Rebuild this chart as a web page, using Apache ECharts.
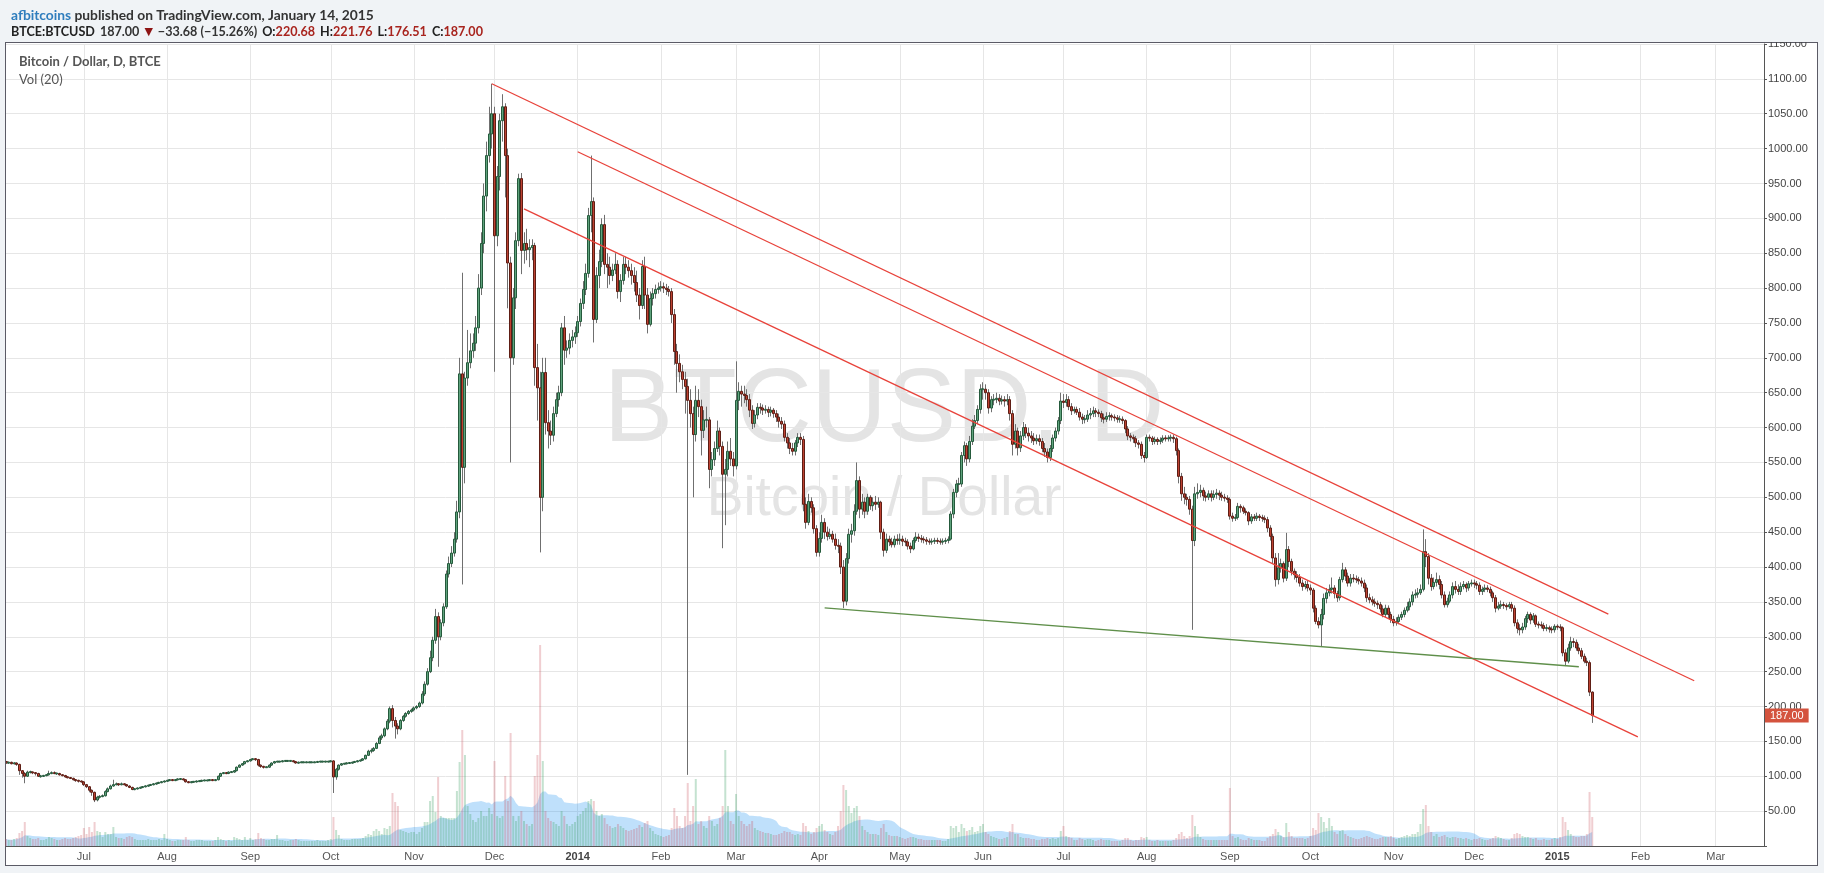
<!DOCTYPE html>
<html>
<head>
<meta charset="utf-8">
<script src="https://cdn.jsdelivr.net/npm/echarts@6/dist/echarts.min.js"></script>
<style>
html,body{margin:0;padding:0;background:#f0f3f6;overflow:hidden;}
#frame{position:absolute;left:5px;top:42px;width:1813px;height:824px;border:1px solid #5b5b66;background:#fff;box-sizing:border-box;}
#chart{position:absolute;left:0;top:0;width:1824px;height:873px;}
#mask{position:absolute;left:1745px;top:0;width:79px;height:42px;background:#f0f3f6;z-index:5;}
</style>
</head>
<body>
<div id="frame"></div>
<div id="chart"></div>
<div id="mask"></div>
<script>
// ---------------- DATA (BTCE:BTCUSD daily) ----------------
const startDate = '2013-06-02';      // first candle
const axisEndDate = '2015-03-19';    // right edge of the time axis (empty future space)
const firstOpen = 121;               // open of the first candle (later opens = previous close)

const closes = [
// 2013-06 (from Jun 2)
119,120,118,119,117,108,104,100,106,106,105,104,100,100,101,102,104,105,104,104,102,101,99,98,97,95,94,93,92,
// 2013-07
88,85,80,77,66,70,71,72,78,82,86,88,89,88,89,88,86,84,81,82,83,84,85,86,87,88,89,90,91,92,93,
// 2013-08
94,95,94,95,96,96,95,92,91,92,92,93,93,94,94,94,95,94,95,100,104,105,104,106,106,108,113,116,118,121,122,
// 2013-09
124,125,124,116,114,113,113,116,119,121,121,121,122,122,122,122,121,119,120,120,120,120,120,120,120,121,121,121,121,121,
// 2013-10
122,99,110,116,118,118,119,119,120,121,122,123,125,130,136,137,140,147,155,158,168,179,197,180,172,168,180,186,190,193,195,
// 2013-11
198,200,205,218,232,250,270,295,329,300,320,343,390,405,420,440,479,677,543,671,693,710,721,743,800,864,932,990,1021,1050,
// 2013-12
875,960,1040,1060,990,836,700,786,868,957,854,864,855,858,861,686,657,500,679,607,595,589,620,640,650,743,711,714,725,730,736,
// 2014-01
752,778,798,821,904,924,755,818,838,891,834,830,818,826,834,795,811,834,830,825,818,808,790,775,831,790,748,785,792,798,800,
// 2014-02
802,800,798,795,762,709,692,680,669,659,639,620,590,639,630,596,611,611,540,554,570,595,573,533,540,566,555,545,
// 2014-03
639,652,648,646,640,625,606,618,629,628,625,626,622,625,620,615,609,605,586,578,570,566,578,586,583,490,464,494,485,455,421,
// 2014-04
441,464,450,444,447,440,431,430,400,351,412,447,452,480,524,483,493,480,500,488,493,490,493,450,424,440,436,432,440,438,
// 2014-05
440,437,436,430,426,438,443,441,440,439,437,436,437,438,437,436,437,438,440,476,507,519,519,560,574,555,580,602,610,626,655,
// 2014-06
655,650,628,640,640,642,638,640,638,640,620,576,595,571,588,600,592,588,585,581,584,580,570,565,557,570,585,595,610,638,
// 2014-07
636,640,630,624,626,622,615,612,612,618,620,624,622,620,614,612,616,617,615,614,612,612,610,598,588,586,584,578,576,560,557,
// 2014-08
586,585,580,583,580,582,585,584,585,586,584,567,530,505,500,497,483,438,505,507,510,502,500,505,500,504,506,503,500,499,497,
// 2014-09
473,470,471,487,485,480,478,466,472,470,473,471,470,468,456,444,413,382,399,405,384,425,408,394,389,385,377,372,375,370,
// 2014-10
367,341,322,317,332,355,363,368,370,362,356,382,396,387,377,384,383,382,380,377,370,356,353,350,348,346,340,332,341,332,325,
// 2014-11
320,322,328,332,338,343,350,360,361,363,368,422,415,384,372,378,382,375,360,346,351,360,372,368,365,372,375,370,376,377,
// 2014-12
376,374,365,368,370,368,363,356,341,344,346,345,343,346,341,320,312,310,314,326,332,324,330,318,317,316,312,313,311,310,315,
// 2015-01
314,313,277,265,284,293,292,284,280,272,265,263,220.68,187
];

const highs = [
// 2013-06
122,121,121,120,120,118,109,106,108,108,107,106,105,102,102,103,108,107,107,105,105,103,102,100,99,98,96,95,94,
// 2013-07
93,89,86,81,78,72,73,74,80,84,88,95,91,90,91,90,89,87,85,83,84,85,86,87,88,89,90,91,92,93,94,
// 2013-08
95,96,96,96,97,97,97,96,93,93,93,94,94,95,95,95,96,96,96,101,105,106,106,107,107,109,114,117,119,122,123,
// 2013-09
125,126,126,125,117,115,114,117,120,122,122,122,123,123,123,123,123,122,121,121,121,121,121,121,121,122,122,122,122,122,
// 2013-10
123,123,112,117,119,119,120,120,121,122,123,124,126,131,138,140,142,149,158,161,170,182,200,202,185,176,182,188,192,195,197,
// 2013-11
200,202,207,222,236,255,280,300,340,335,325,348,395,415,430,450,495,700,822,680,740,735,735,760,820,880,950,1010,1060,1093,
// 2013-12
1060,975,1050,1078,1065,1000,845,800,880,964,965,880,885,870,870,865,720,680,700,700,625,610,630,650,660,750,760,725,735,740,745,
// 2014-01
760,785,810,835,915,990,930,830,855,900,905,850,845,835,850,840,820,845,845,840,835,830,825,800,840,845,800,795,800,805,808,
// 2014-02
810,808,806,803,800,770,720,705,690,680,670,655,630,660,655,640,625,630,615,565,580,610,600,580,555,580,585,565,
// 2014-03
695,665,660,660,655,648,632,625,635,635,633,632,630,630,628,625,620,615,610,592,585,578,582,592,592,588,500,505,500,490,460,
// 2014-04
450,475,470,458,455,452,448,440,435,410,420,455,462,490,550,530,505,500,505,503,500,502,500,495,455,448,445,442,445,447,
// 2014-05
448,445,442,440,435,442,450,448,446,444,443,441,441,442,442,441,441,442,444,480,512,525,528,565,580,578,588,612,618,632,662,
// 2014-06
665,662,655,645,648,650,648,646,645,648,645,625,605,600,595,608,605,600,595,592,590,590,585,578,570,575,590,600,615,650,
// 2014-07
648,648,645,635,630,630,628,620,618,625,628,630,628,626,624,620,622,622,620,619,618,617,616,612,602,592,590,588,582,580,565,
// 2014-08
590,590,588,587,586,586,589,589,589,590,590,587,570,535,515,505,502,488,515,520,518,514,508,510,510,510,512,510,508,505,503,
// 2014-09
500,478,476,492,490,488,484,480,476,476,478,476,475,474,472,460,448,420,420,412,408,449,430,412,398,394,390,382,380,380,
// 2014-10
375,370,345,328,340,362,370,375,385,374,366,386,406,400,392,390,390,388,386,385,382,375,362,358,355,352,350,345,346,345,336,
// 2014-11
330,328,332,336,342,350,355,365,368,370,375,454,440,420,390,385,392,388,380,365,356,365,378,380,375,378,380,378,380,382,
// 2014-12
382,380,378,372,375,374,372,366,360,350,352,350,348,350,350,345,325,318,320,330,336,335,334,332,322,322,320,318,316,315,318,
// 2015-01
318,318,315,282,290,300,298,296,290,284,276,270,266,221.76
];

const lows = [
// 2013-06
118,118,117,117,115,102,98,90,99,104,103,101,99,98,99,100,101,103,103,102,101,100,98,97,96,94,92,91,91,
// 2013-07
86,83,77,72,63,64,68,70,71,77,81,85,87,86,87,87,85,83,80,80,81,82,83,84,85,86,87,88,89,90,91,
// 2013-08
92,93,93,93,94,95,94,91,90,90,91,91,92,92,93,93,93,93,93,94,99,103,103,103,105,105,107,112,115,117,120,
// 2013-09
121,123,122,114,112,111,112,112,115,118,120,120,120,121,121,121,120,118,118,119,119,119,119,119,119,119,120,120,120,120,
// 2013-10
120,76,95,108,115,117,117,118,118,119,120,121,122,124,129,133,135,139,146,152,156,166,176,170,154,160,166,178,184,188,191,
// 2013-11
193,196,198,203,215,230,248,265,290,257,295,315,340,385,400,415,435,470,375,520,660,685,700,710,735,790,850,910,980,1000,
// 2013-12
680,860,940,1010,930,771,550,690,770,860,820,835,840,830,840,660,610,421,480,590,570,575,580,615,630,645,690,700,705,715,720,
// 2014-01
730,745,770,790,815,880,722,750,800,830,820,800,805,810,820,785,780,805,820,815,805,795,780,755,770,770,735,745,775,785,792,
// 2014-02
795,793,790,788,750,690,650,665,655,620,102,600,500,580,615,560,585,600,513,530,545,565,560,427,460,530,545,530,
// 2014-03
540,625,630,635,630,615,598,600,612,620,618,620,615,616,614,608,600,598,580,570,562,560,560,572,575,480,455,460,478,448,415,
// 2014-04
415,435,440,438,440,435,425,420,390,341,345,405,435,445,475,470,475,470,475,482,480,482,485,440,415,420,430,428,428,432,
// 2014-05
432,430,430,425,420,424,435,436,435,434,432,432,432,433,433,432,432,433,434,438,470,500,508,515,550,545,550,575,598,605,620,
// 2014-06
640,640,620,622,632,635,632,633,630,632,610,560,570,560,565,582,585,580,578,575,576,574,565,558,550,552,565,580,590,605,
// 2014-07
628,630,625,618,620,618,610,605,606,608,612,615,615,615,608,606,608,610,610,609,607,607,605,592,582,580,578,572,570,555,550,
// 2014-08
555,580,575,576,575,576,578,580,580,580,578,560,520,495,490,488,475,310,430,498,500,495,494,496,494,496,498,496,495,494,492,
// 2014-09
468,465,466,468,478,476,474,460,462,466,466,466,465,463,450,438,405,372,375,392,378,380,400,388,382,378,372,366,368,365,
// 2014-10
360,335,318,312,286,325,348,358,362,355,350,352,378,380,372,372,378,377,375,372,364,350,348,345,343,340,335,328,328,326,320,
// 2014-11
315,316,318,324,328,335,338,345,355,356,360,365,400,375,366,368,372,368,355,342,342,348,355,362,360,360,368,364,366,372,
// 2014-12
370,368,360,360,364,364,358,350,335,338,340,340,338,340,336,315,305,302,305,310,320,318,320,314,312,312,308,308,306,305,306,
// 2015-01
310,308,272,258,262,280,285,280,275,268,262,258,215,176.51
];

// daily volume (relative units)
const volumes = [
// 2013-06
7,6,6,7,8,13,15,24,10,8,7,7,8,6,6,7,9,8,7,6,6,7,8,7,7,8,9,10,11,
// 2013-07
18,12,19,14,24,15,14,9,14,12,12,19,9,8,8,7,9,10,9,7,6,6,6,6,7,6,6,6,7,6,12,
// 2013-08
7,6,5,5,6,6,6,9,6,5,5,6,6,6,5,5,5,5,6,9,7,6,5,6,5,9,8,7,6,9,6,
// 2013-09
8,6,7,13,8,7,6,6,7,7,11,6,6,5,5,6,6,7,6,5,5,5,5,5,5,6,5,5,5,6,
// 2013-10
7,29,16,11,7,6,6,6,7,7,7,7,8,10,12,11,15,17,15,12,18,17,20,53,44,40,16,15,14,13,14,
// 2013-11
14,12,14,18,24,24,45,50,34,69,30,28,28,28,28,28,55,84,116,91,40,32,26,24,28,35,30,30,38,32,
// 2013-12
85,30,28,30,70,45,113,30,25,30,35,25,22,20,22,70,91,201,85,35,28,25,24,22,20,35,30,22,20,22,24,
// 2014-01
30,32,35,38,45,47,45,35,30,32,28,22,20,18,19,22,20,18,16,15,16,17,18,21,19,23,25,18,15,12,11,
// 2014-02
10,9,10,11,18,38,30,20,18,30,63,25,40,67,22,25,20,18,30,25,20,22,28,40,96,40,25,22,
// 2014-03
52,30,25,22,20,22,25,18,16,15,14,13,13,12,11,11,12,13,15,14,14,12,11,12,11,23,20,15,12,14,18,
// 2014-04
20,22,16,14,12,11,14,20,35,61,56,40,33,38,40,30,20,16,14,12,12,12,11,18,22,14,11,10,10,10,
// 2014-05
9,8,7,8,9,9,8,7,7,6,6,6,6,6,6,6,5,5,7,20,18,20,14,22,18,15,16,19,14,15,20,
// 2014-06
22,14,12,10,9,8,7,7,8,9,15,22,12,12,9,8,8,8,7,7,6,6,7,7,8,7,8,7,8,15,
// 2014-07
20,10,9,8,6,6,8,7,6,7,7,6,5,6,7,6,6,6,5,5,5,5,6,8,8,6,5,6,6,9,8,
// 2014-08
9,6,5,5,6,5,5,5,5,5,6,8,12,14,10,8,10,31,20,12,9,7,6,6,6,6,6,6,6,6,6,
// 2014-09
58,10,8,9,7,6,6,8,7,6,6,6,5,5,8,10,12,17,14,10,9,23,14,10,8,8,8,8,7,8,
// 2014-10
10,18,16,33,29,24,18,28,20,14,12,15,16,12,10,9,8,7,7,8,9,10,9,8,7,7,8,9,9,9,10,
// 2014-11
8,7,8,9,10,11,10,12,12,14,22,37,41,20,14,10,12,9,10,11,9,8,9,9,8,8,7,8,7,6,
// 2014-12
7,7,8,7,6,6,7,8,10,9,8,7,6,6,8,12,13,12,10,9,9,8,7,8,6,6,7,6,6,7,8,
// 2015-01
7,9,29,24,16,12,10,9,9,10,10,12,54,29
];
const volMaLength = 20;

// drawn trend lines: [date, price] endpoints
const trendLines = [
  { name: 'upper',  color: '#e8423a', from: ['2013-11-30', 1093],  to: ['2015-01-20', 332.5] },
  { name: 'middle', color: '#e8423a', from: ['2014-01-01', 995.5], to: ['2015-02-21', 237] },
  { name: 'lower',  color: '#e8423a', from: ['2013-12-12', 913.5], to: ['2015-01-31', 156.5] },
  { name: 'support',color: '#5f8f4a', from: ['2014-04-03', 341.5], to: ['2015-01-09', 257] }
];

const monthNames = ['Jan','Feb','Mar','Apr','May','Jun','Jul','Aug','Sep','Oct','Nov','Dec'];
const priceTicks = { min: 0, max: 1150, step: 50 };

// ---------------- BUILD ----------------
const DAY = 86400000;
const t0 = Date.parse(startDate + 'T00:00:00Z');
const t1 = Date.parse(axisEndDate + 'T00:00:00Z');
const dates = [];
for (let t = t0; t <= t1; t += DAY) dates.push(new Date(t).toISOString().slice(0, 10));
const idxOf = {};
dates.forEach((d, i) => { idxOf[d] = i; });

const opens = closes.map((c, i) => i === 0 ? firstOpen : closes[i - 1]);
const candleData = closes.map((c, i) => [i, opens[i], c, lows[i], highs[i]]);
const volData = volumes.map((v, i) => ({
  value: v,
  itemStyle: { color: closes[i] >= opens[i] ? 'rgba(70,165,110,0.32)' : 'rgba(200,80,90,0.28)' }
}));
const volMa = volumes.map((v, i) => {
  const a = Math.max(0, i - volMaLength + 1);
  let s = 0; for (let k = a; k <= i; k++) s += volumes[k];
  return +(s / (i - a + 1)).toFixed(2);
});

const n = closes.length;
const last = closes[n - 1], prev = closes[n - 2];
const chg = last - prev, pct = chg / prev * 100;
const minus = '\u2212';
const fmt = v => v.toFixed(2);
const sgn = v => (v < 0 ? minus : '+') + Math.abs(v).toFixed(2);

function isMonthStart(index, value) { return value.slice(8, 10) === '01'; }

function renderCandle(params, api) {
  const i = api.value(0), o = api.value(1), c = api.value(2), l = api.value(3), h = api.value(4);
  const pO = api.coord([i, o]), pC = api.coord([i, c]);
  const pL = api.coord([i, l]), pH = api.coord([i, h]);
  const x = Math.floor(pO[0]) + 0.5;
  const up = c >= o;
  let top = Math.min(pO[1], pC[1]), bot = Math.max(pO[1], pC[1]);
  if (bot - top < 1) { const m = (top + bot) / 2; top = m - 0.5; bot = m + 0.5; }
  return {
    type: 'group',
    children: [
      { type: 'line', shape: { x1: x, y1: pH[1], x2: x, y2: pL[1] }, style: { stroke: '#6f6f6f', lineWidth: 1 } },
      { type: 'rect', shape: { x: x - 1, y: top, width: 2, height: bot - top },
        style: { fill: up ? '#5fa37d' : '#bd4232', stroke: up ? '#255a3c' : '#5e1e15', lineWidth: 1 } }
    ]
  };
}

const series = [
  {
    name: 'Vol MA', type: 'line', yAxisIndex: 1, data: volMa, symbol: 'none', silent: true,
    lineStyle: { width: 0 }, areaStyle: { color: 'rgba(25,145,240,0.40)' }, z: 1
  },
  {
    name: 'Vol', type: 'bar', yAxisIndex: 1, data: volData, barWidth: 2, silent: true, z: 1
  },
  {
    name: 'BTCUSD', type: 'custom', renderItem: renderCandle, data: candleData,
    encode: { x: 0, y: [1, 2, 3, 4] }, clip: true, z: 3
  }
];
trendLines.forEach(tl => {
  series.push({
    name: tl.name, type: 'line', silent: true, symbol: 'none', z: 4,
    data: [[idxOf[tl.from[0]], tl.from[1]], [idxOf[tl.to[0]], tl.to[1]]],
    lineStyle: { color: tl.color, width: 1.3 }
  });
});
// last-price marker on the price axis
series.push({
  name: 'last', type: 'line', silent: true, symbol: 'none', z: 6, clip: false,
  data: [[n - 1, last]], lineStyle: { width: 0, color: 'rgba(0,0,0,0)' },
  markLine: {
    silent: true, symbol: ['none', 'none'], animation: false,
    lineStyle: { width: 0, color: 'rgba(212,83,62,0)', type: 'solid' },
    label: {
      show: true, position: 'end', distance: 1, formatter: fmt(last),
      color: '#fff', backgroundColor: '#d4533e', padding: [2, 5, 1, 5],
      fontSize: 11, fontFamily: 'Liberation Sans, Arial, sans-serif'
    },
    data: [{ yAxis: last }]
  }
});

const chart = echarts.init(document.getElementById('chart'), null, { renderer: 'canvas' });
chart.setOption({
  animation: false,
  backgroundColor: 'transparent',
  textStyle: { fontFamily: 'Liberation Sans, Arial, sans-serif' },
  title: [
    {
      left: 6, top: 4,
      text: '{a|afbitcoins}{b| published on TradingView.com, January 14, 2015}',
      textStyle: { rich: {
        a: { color: '#2f7dbd', fontSize: 13.8, fontFamily: 'Lato' },
        b: { color: '#333', fontSize: 13.8, fontFamily: 'Lato' }
      } }
    },
    {
      left: 6, top: 18,
      text: '{k|BTCE:BTCUSD} {n|' + fmt(last) + '} {t|\u25BC} {n|' + sgn(chg) + ' (' + sgn(pct) + '%)} ' +
            '{k|O:}{r|' + fmt(opens[n - 1]) + '} {k|H:}{r|' + fmt(highs[n - 1]) + '} ' +
            '{k|L:}{r|' + fmt(lows[n - 1]) + '} {k|C:}{r|' + fmt(last) + '}',
      textStyle: { rich: {
        k: { color: '#222', fontSize: 12.6, fontWeight: 'bold', fontFamily: 'Lato' },
        n: { color: '#333', fontSize: 12.6, fontFamily: 'Lato' },
        t: { color: '#8e1414', fontSize: 11, fontFamily: 'DejaVu Sans' },
        r: { color: '#a8241e', fontSize: 12.6, fontFamily: 'Lato' }
      } }
    },
    {
      left: 14, top: 50, text: 'Bitcoin / Dollar, D, BTCE',
      textStyle: { color: '#555', fontSize: 13, fontWeight: 'bold', fontFamily: 'Lato' }
    },
    {
      left: 14, top: 68, text: 'Vol (20)',
      textStyle: { color: '#555', fontSize: 13, fontWeight: 'normal', fontFamily: 'Lato' }
    }
  ],
  graphic: [
    { type: 'text', x: 884, y: 412, silent: true, z: -1,
      style: { text: 'BTCUSD, D', font: '104px "Liberation Sans", Arial, sans-serif', fill: '#e4e4e4',
               textAlign: 'center', textVerticalAlign: 'middle', align: 'center', verticalAlign: 'middle' } },
    { type: 'text', x: 884, y: 500, silent: true, z: -1,
      style: { text: 'Bitcoin / Dollar', font: '55px "Liberation Sans", Arial, sans-serif', fill: '#e4e4e4',
               textAlign: 'center', textVerticalAlign: 'middle', align: 'center', verticalAlign: 'middle' } }
  ],
  grid: { left: 6, right: 60, top: 44, bottom: 27, containLabel: false },
  xAxis: {
    type: 'category', data: dates, boundaryGap: false,
    axisLine: { show: true, lineStyle: { color: '#555' } },
    axisTick: { show: false },
    axisLabel: {
      interval: isMonthStart, color: '#555', fontSize: 11, margin: 5,
      formatter: v => { const m = +v.slice(5, 7); return m === 1 ? '{y|' + v.slice(0, 4) + '}' : monthNames[m - 1]; },
      rich: { y: { fontWeight: 'bold', color: '#444', fontSize: 11 } }
    },
    splitLine: { show: true, interval: isMonthStart, lineStyle: { color: '#e6e6e6', width: 1 } }
  },
  yAxis: [
    {
      type: 'value', position: 'right', min: priceTicks.min, max: priceTicks.max, interval: priceTicks.step,
      axisLine: { show: true, lineStyle: { color: '#555' } },
      axisTick: { show: true, length: 3, lineStyle: { color: '#555' } },
      axisLabel: { color: '#444', fontSize: 11, margin: 4, formatter: v => v === 0 ? '' : v.toFixed(2) },
      splitLine: { show: true, lineStyle: { color: '#e6e6e6', width: 1 } }
    },
    { type: 'value', min: 0, max: 802, show: false, splitLine: { show: false } }
  ],
  series: series
});
</script>
</body>
</html>
